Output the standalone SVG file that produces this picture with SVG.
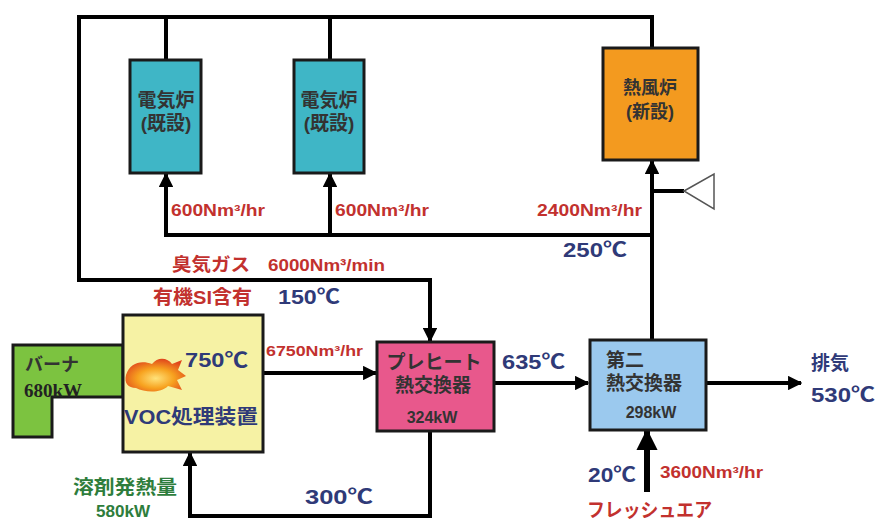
<svg xmlns="http://www.w3.org/2000/svg" width="877" height="521" viewBox="0 0 877 521">
  <defs>
    <marker id="arrow" viewBox="0 0 10 10" refX="9" refY="5" markerWidth="3.6" markerHeight="3.6" orient="auto" markerUnits="strokeWidth">
      <path d="M0,0 L10,5 L0,10 z" fill="#000"/>
    </marker>
    <radialGradient id="flame" cx="0.5" cy="0.6" r="0.6">
      <stop offset="0" stop-color="#ffe27a"/>
      <stop offset="0.5" stop-color="#f7a21f"/>
      <stop offset="1" stop-color="#e0461c"/>
    </radialGradient>
    <style>
      .box { stroke: #1a1a1a; stroke-width: 3; }
      .pipe { fill: none; stroke: #000; stroke-width: 4; }
      .arr { fill: none; stroke: #000; stroke-width: 4; marker-end: url(#arrow); }
      .t { font-family: "Liberation Sans", "Noto Sans CJK JP", sans-serif; font-weight: bold; }
      .red { fill: #c2312e; }
      .navy { fill: #2f3a78; }
      .green { fill: #2e7d3c; }
      .dark { fill: #333; }
    </style>
  </defs>
  <rect width="877" height="521" fill="#fff"/>

  <!-- connectors -->
  <g id="connectors">
    <!-- top header feeding the furnaces -->
    <polyline class="pipe" points="79,280 79,17 652,17 652,48"/>
    <line class="pipe" x1="166" y1="17" x2="166" y2="60"/>
    <line class="pipe" x1="330" y1="17" x2="330" y2="60"/>
    <!-- odor gas to preheat exchanger -->
    <polyline class="arr" points="77,280 430,280 430,341"/>
    <!-- 250C supply header to the furnaces -->
    <polyline class="arr" points="652,235 166,235 166,174"/>
    <line class="arr" x1="330" y1="235" x2="330" y2="174"/>
    <line class="arr" x1="652" y1="340" x2="652" y2="161"/>
    <!-- blower -->
    <line class="pipe" x1="652" y1="191" x2="684" y2="191"/>
    <polygon points="684,191 714,174 714,209" fill="#fff" stroke="#555" stroke-width="1.5"/>
    <!-- main flow -->
    <line class="arr" x1="263" y1="373" x2="376" y2="373"/>
    <line class="arr" x1="494" y1="383" x2="588" y2="383"/>
    <line class="arr" x1="706" y1="383" x2="801" y2="383"/>
    <line class="arr" x1="647" y1="492" x2="647" y2="431" style="stroke-width:6"/>
    <!-- 300C return -->
    <polyline class="arr" points="430,431 430,516 190,516 190,453"/>
  </g>

  <!-- existing electric furnace 1 -->
  <g id="furnace1">
    <rect class="box" x="130" y="60" width="71" height="113" fill="#3fb6c6"/>
    <text class="t dark" x="166" y="107" font-size="19" text-anchor="middle">電気炉</text>
    <text class="t dark" x="166" y="130" font-size="19" text-anchor="middle">(既設)</text>
  </g>

  <!-- existing electric furnace 2 -->
  <g id="furnace2">
    <rect class="box" x="294" y="60" width="70" height="113" fill="#3fb6c6"/>
    <text class="t dark" x="329" y="107" font-size="19" text-anchor="middle">電気炉</text>
    <text class="t dark" x="329" y="130" font-size="19" text-anchor="middle">(既設)</text>
  </g>

  <!-- new hot-air furnace -->
  <g id="hotair">
    <rect class="box" x="603" y="48" width="95" height="112" fill="#f39a1f"/>
    <text class="t dark" x="650" y="94" font-size="18" text-anchor="middle">熱風炉</text>
    <text class="t dark" x="650" y="118" font-size="18" text-anchor="middle">(新設)</text>
  </g>

  <!-- burner -->
  <g id="burner">
    <polygon class="box" points="13,345 123,345 123,397 52,397 52,437 13,437" fill="#7cc340"/>
    <text class="t dark" x="25" y="371" font-size="18" font-weight="normal">バーナ</text>
    <text x="24" y="397" font-size="19" font-family="Liberation Serif, serif" font-weight="bold" fill="#222">680kW</text>
  </g>

  <!-- VOC treatment unit -->
  <g id="voc">
    <rect class="box" x="123" y="315" width="140" height="137" fill="#f6f2a4"/>
    <path d="M126,375 C130,362 142,360 152,364 C158,356 168,358 172,364 L182,360 L178,370 L186,376 L177,380 L182,390 L168,386 C160,394 144,392 136,388 C128,388 124,383 126,375 z" fill="url(#flame)"/>
    <text class="t navy" x="185" y="367" font-size="21" textLength="63" lengthAdjust="spacingAndGlyphs">750℃</text>
    <text class="t navy" x="124" y="424" font-size="20" textLength="134" lengthAdjust="spacingAndGlyphs">VOC処理装置</text>
  </g>

  <!-- preheat exchanger -->
  <g id="preheat">
    <rect class="box" x="377" y="342" width="117" height="89" fill="#e8588c"/>
    <text class="t dark" x="434" y="369" font-size="19" text-anchor="middle">プレヒート</text>
    <text class="t dark" x="433" y="392" font-size="19" text-anchor="middle">熱交換器</text>
    <text class="t dark" x="432" y="423" font-size="16" text-anchor="middle">324kW</text>
  </g>

  <!-- second exchanger -->
  <g id="second">
    <rect class="box" x="590" y="340" width="116" height="90" fill="#9bc9ee"/>
    <text class="t dark" x="606" y="367" font-size="19">第二</text>
    <text class="t dark" x="606" y="390" font-size="19">熱交換器</text>
    <text class="t dark" x="651" y="418" font-size="16" text-anchor="middle">298kW</text>
  </g>

  <!-- flow labels -->
  <g id="labels">
    <text class="t red" x="171" y="216" font-size="16" textLength="94" lengthAdjust="spacingAndGlyphs">600Nm³/hr</text>
    <text class="t red" x="335" y="216" font-size="16" textLength="94" lengthAdjust="spacingAndGlyphs">600Nm³/hr</text>
    <text class="t red" x="537" y="216" font-size="16" textLength="105" lengthAdjust="spacingAndGlyphs">2400Nm³/hr</text>
    <text class="t navy" x="563" y="257" font-size="20" textLength="64" lengthAdjust="spacingAndGlyphs">250℃</text>
    <text class="t red" x="172" y="271" font-size="18" textLength="78" lengthAdjust="spacingAndGlyphs">臭気ガス</text>
    <text class="t red" x="268" y="271" font-size="17" textLength="117" lengthAdjust="spacingAndGlyphs">6000Nm³/min</text>
    <text class="t red" x="153" y="304" font-size="19" textLength="99" lengthAdjust="spacingAndGlyphs">有機SI含有</text>
    <text class="t navy" x="278" y="304" font-size="20" textLength="62" lengthAdjust="spacingAndGlyphs">150℃</text>
    <text class="t red" x="266" y="356" font-size="15" textLength="97" lengthAdjust="spacingAndGlyphs">6750Nm³/hr</text>
    <text class="t navy" x="502" y="369" font-size="20" textLength="63" lengthAdjust="spacingAndGlyphs">635℃</text>
    <text class="t navy" x="811" y="370" font-size="19">排気</text>
    <text class="t navy" x="811" y="402" font-size="20" textLength="64" lengthAdjust="spacingAndGlyphs">530℃</text>
    <text class="t navy" x="588" y="482" font-size="20" textLength="48" lengthAdjust="spacingAndGlyphs">20℃</text>
    <text class="t red" x="660" y="478" font-size="16" textLength="103" lengthAdjust="spacingAndGlyphs">3600Nm³/hr</text>
    <text class="t red" x="587" y="517" font-size="19" textLength="125" lengthAdjust="spacingAndGlyphs">フレッシュエア</text>
    <text class="t navy" x="305" y="504" font-size="20" textLength="68" lengthAdjust="spacingAndGlyphs">300℃</text>
    <text class="t green" x="73" y="494" font-size="19" textLength="104" lengthAdjust="spacingAndGlyphs">溶剤発熱量</text>
    <text class="t green" x="96" y="517" font-size="16" textLength="54" lengthAdjust="spacingAndGlyphs">580kW</text>
  </g>
</svg>
